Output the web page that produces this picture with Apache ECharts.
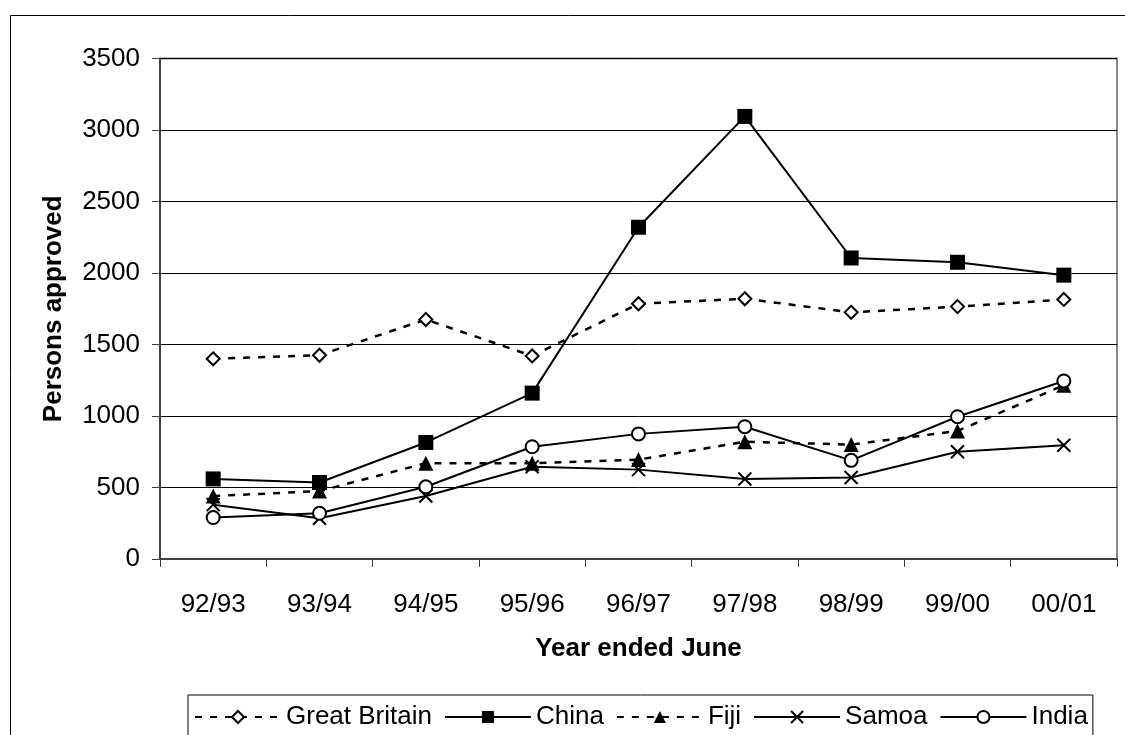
<!DOCTYPE html>
<html>
<head>
<meta charset="utf-8">
<script src="https://cdn.jsdelivr.net/npm/echarts@6/dist/echarts.min.js"></script>
<style>
html,body{margin:0;padding:0;background:#fff;}
#chart{width:1125px;height:735px;}
</style>
</head>
<body>
<div id="chart"></div>
<script>
const categories = ['92/93','93/94','94/95','95/96','96/97','97/98','98/99','99/00','00/01'];
const greatBritain = [1400, 1425, 1675, 1420, 1785, 1820, 1725, 1765, 1815];
const china        = [560, 535, 815, 1160, 2320, 3095, 2105, 2075, 1985];
const fiji         = [440, 475, 670, 670, 695, 820, 800, 895, 1215];
const samoa        = [380, 285, 440, 645, 625, 560, 570, 750, 795];
const india        = [290, 320, 505, 785, 875, 925, 690, 995, 1245];
const yTicks = {min: 0, max: 3500, interval: 500};

const FONT = '"Liberation Sans", Arial, sans-serif';
const crossPath = 'path://M0,0 L10,10 M10,0 L0,10';

const chart = echarts.init(document.getElementById('chart'));
chart.setOption({
  animation: false,
  backgroundColor: '#fff',
  textStyle: {fontFamily: FONT, color: '#000'},
  graphic: [{
    type: 'rect',
    shape: {x: 10.5, y: 15.5, width: 1200, height: 800},
    style: {fill: 'none', stroke: '#000', lineWidth: 1},
    z: -10
  }],
  grid: {
    left: 160, top: 58.5, right: 8, bottom: 176,
    show: true, borderColor: '#888', borderWidth: 2, backgroundColor: 'transparent'
  },
  legend: {
    left: 188, top: 695,
    orient: 'horizontal',
    itemWidth: 86, itemHeight: 15, itemGap: 12,
    padding: [9, 5, 20, 6],
    borderColor: '#000', borderWidth: 1,
    textStyle: {fontFamily: FONT, fontSize: 26, color: '#000'},
    data: ['Great Britain', 'China', 'Fiji', 'Samoa', 'India']
  },
  xAxis: {
    type: 'category',
    data: categories,
    boundaryGap: true,
    name: 'Year ended June',
    nameLocation: 'middle',
    nameGap: 77,
    nameTextStyle: {fontFamily: FONT, fontSize: 26, fontWeight: 'bold', color: '#000'},
    axisLine: {lineStyle: {color: '#404040', width: 2}},
    axisTick: {show: true, length: 8, alignWithLabel: false, lineStyle: {color: '#404040', width: 1}},
    axisLabel: {fontFamily: FONT, fontSize: 26, color: '#000', margin: 33, interval: 0}
  },
  yAxis: {
    type: 'value',
    min: yTicks.min, max: yTicks.max, interval: yTicks.interval,
    name: 'Persons approved',
    nameLocation: 'middle',
    nameGap: 93,
    nameTextStyle: {fontFamily: FONT, fontSize: 26, fontWeight: 'bold', color: '#000'},
    axisLine: {show: true, lineStyle: {color: '#404040', width: 2}},
    axisTick: {show: true, length: 8, lineStyle: {color: '#404040', width: 1}},
    axisLabel: {fontFamily: FONT, fontSize: 26, color: '#000', margin: 20, formatter: (v) => String(v)},
    splitLine: {show: true, lineStyle: {color: '#000', width: 1}}
  },
  series: [
    {
      name: 'Great Britain', type: 'line', data: greatBritain,
      symbol: 'diamond', symbolSize: 13,
      lineStyle: {color: '#000', width: 2.5, type: [7, 8]},
      itemStyle: {color: '#fff', borderColor: '#000', borderWidth: 2}
    },
    {
      name: 'China', type: 'line', data: china,
      symbol: 'rect', symbolSize: 15,
      lineStyle: {color: '#000', width: 2, type: 'solid'},
      itemStyle: {color: '#000', borderColor: '#000', borderWidth: 0}
    },
    {
      name: 'Fiji', type: 'line', data: fiji,
      symbol: 'triangle', symbolSize: 15,
      lineStyle: {color: '#000', width: 2.5, type: [7, 8]},
      itemStyle: {color: '#000', borderColor: '#000', borderWidth: 0}
    },
    {
      name: 'Samoa', type: 'line', data: samoa,
      symbol: crossPath, symbolSize: 13,
      lineStyle: {color: '#000', width: 2, type: 'solid'},
      itemStyle: {color: 'none', borderColor: '#000', borderWidth: 2}
    },
    {
      name: 'India', type: 'line', data: india,
      symbol: 'circle', symbolSize: 13,
      lineStyle: {color: '#000', width: 2, type: 'solid'},
      itemStyle: {color: '#fff', borderColor: '#000', borderWidth: 2}
    }
  ]
});
</script>
</body>
</html>
